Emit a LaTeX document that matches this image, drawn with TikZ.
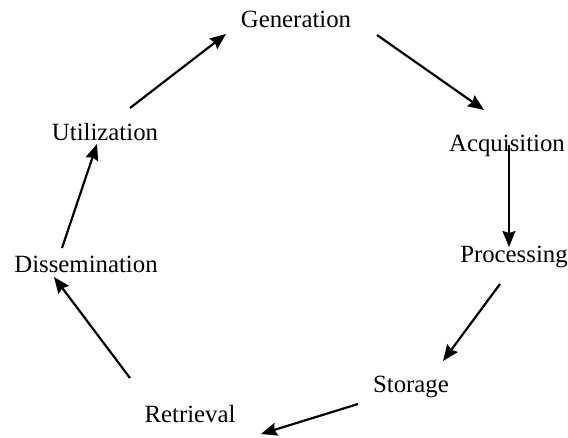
\documentclass[tikz,border=0pt]{standalone}
\usepackage{fontspec}
\setmainfont{Liberation Serif}
\usetikzlibrary{arrows.meta}
\begin{document}
\begin{tikzpicture}[x=1pt,y=-1pt,
  lbl/.style={anchor=base,inner sep=0pt,font=\fontsize{24.8}{28}\selectfont},
  arr/.style={line width=2.2pt,-{Stealth[length=16pt,width=13pt,inset=2pt]}}]
\useasboundingbox (0,0) rectangle (568,437);
\node[lbl] (gen) at (296,27) {Generation};
\node[lbl] (acq) at (507,151) {Acquisition};
\node[lbl] (pro) at (514,262) {Processing};
\node[lbl] (sto) at (411,392) {Storage};
\node[lbl] (ret) at (190,422) {Retrieval};
\node[lbl] (dis) at (86,272) {Dissemination};
\node[lbl] (uti) at (105,140) {Utilization};
% arrow end points
\coordinate (a1s) at (377,35);  \coordinate (a1e) at (484,110);
\coordinate (a2s) at (509,145); \coordinate (a2e) at (509,247);
\coordinate (a3s) at (500,284); \coordinate (a3e) at (443,361);
\coordinate (a4s) at (358,404); \coordinate (a4e) at (261,434);
\coordinate (a5s) at (130,378); \coordinate (a5e) at (54,277);
\coordinate (a6s) at (62,248);  \coordinate (a6e) at (97,144);
\coordinate (a7s) at (130,108); \coordinate (a7e) at (226,34);
\draw[arr] (a1s) -- (a1e);
\draw[arr] (a2s) -- (a2e);
\draw[arr] (a3s) -- (a3e);
\draw[arr] (a4s) -- (a4e);
\draw[arr] (a5s) -- (a5e);
\draw[arr] (a6s) -- (a6e);
\draw[arr] (a7s) -- (a7e);
\end{tikzpicture}
\end{document}
